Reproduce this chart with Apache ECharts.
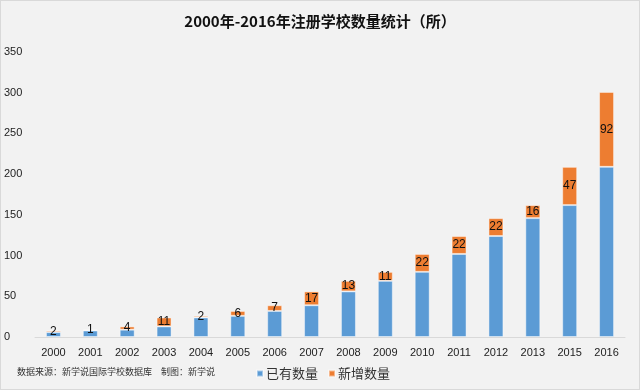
<!DOCTYPE html>
<html><head><meta charset="utf-8">
<script src="https://cdn.jsdelivr.net/npm/echarts@6/dist/echarts.min.js"></script>
<style>
html,body{margin:0;padding:0;background:#f2f2f2;}
#c{width:640px;height:390px;box-sizing:border-box;border:1px solid #d9d9d9;background:#f2f2f2;}
</style></head>
<body><div id="c"></div>
<script>
const years = ['2000','2001','2002','2003','2004','2005','2006','2007','2008','2009','2010','2011','2012','2013','2015','2016'];
const existing = [6,8,9,13,24,26,32,39,56,69,80,102,124,146,162,209];
const added = [2,1,4,11,2,6,7,17,13,11,22,22,22,16,47,92];
const yTicks = [0,50,100,150,200,250,300,350];
const titleText = '2000年-2016年注册学校数量统计（所）';
const sourceText = '数据来源：新学说国际学校数据库　制图：新学说';
const seriesNames = ['已有数量','新增数量'];

const ff = '"Noto Sans CJK SC", "Liberation Sans", sans-serif';
const chart = echarts.init(document.getElementById('c'), null, {renderer:'canvas'});
chart.setOption({
  backgroundColor: 'transparent',
  animation: false,
  textStyle: {fontFamily: ff},
  title: {
    text: titleText, left: 'center', top: 8,
    textStyle: {fontSize: 15, fontWeight: 'bold', color: '#111', fontFamily: ff}
  },
  graphic: [{
    type: 'text', left: 16, top: 366,
    style: {text: sourceText, fontSize: 9, fill: '#333', fontFamily: ff}
  }],
  legend: {
    data: seriesNames, left: 250, top: 361, itemWidth: 6, itemHeight: 6, itemGap: 10,
    icon: 'rect',
    textStyle: {fontSize: 13, color: '#333', fontFamily: ff, padding: [0,0,0,-2]}
  },
  grid: {left: 33, right: 14, top: 51, bottom: 52},
  xAxis: {
    type: 'category', data: years,
    axisLine: {lineStyle: {color: '#d9d9d9'}},
    axisTick: {show: false},
    axisLabel: {color: '#222', fontSize: 11, margin: 10, fontFamily: '"Liberation Sans", sans-serif'}
  },
  yAxis: {
    type: 'value', min: 0, max: yTicks[yTicks.length-1], interval: 50,
    axisLine: {show: false}, axisTick: {show: false}, splitLine: {show: false},
    axisLabel: {color: '#222', fontSize: 11, align: 'left', margin: 31, fontFamily: '"Liberation Sans", sans-serif'}
  },
  series: [
    {name: seriesNames[0], type: 'bar', stack: 't', data: existing, barWidth: 15,
     itemStyle: {color: '#5b9bd5', borderColor: 'rgba(255,255,255,0.45)', borderWidth: 1}},
    {name: seriesNames[1], type: 'bar', stack: 't', data: added, barWidth: 15,
     itemStyle: {color: '#ed7d31', borderColor: 'rgba(255,255,255,0.45)', borderWidth: 1},
     label: {show: true, position: 'inside', color: '#111', fontSize: 12, fontFamily: '"Liberation Sans", sans-serif'}}
  ]
});
</script></body></html>
